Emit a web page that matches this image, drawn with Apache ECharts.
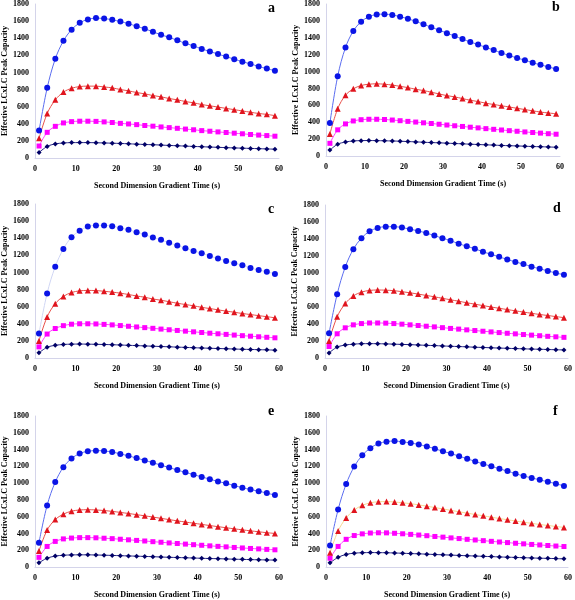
<!DOCTYPE html>
<html><head><meta charset="utf-8">
<script src="https://cdn.jsdelivr.net/npm/echarts@6/dist/echarts.min.js"></script>
<style>html,body{margin:0;padding:0;background:#fff}#c{width:575px;height:600px}</style>
</head><body><div id="c"></div>
<script>
const xValues = [1,3,5,7,9,11,13,15,17,19,21,23,25,27,29,31,33,35,37,39,41,43,45,47,49,51,53,55,57,59];
const panelLabels = ['a','b','c','d','e','f'];
const yTicks = [0,200,400,600,800,1000,1200,1400,1600,1800];
const xTicks = [0,10,20,30,40,50,60];

const aBlue = [320,820,1160,1370,1500,1580,1620,1635,1630,1615,1595,1570,1540,1510,1475,1440,1410,1375,1340,1310,1275,1245,1215,1185,1155,1125,1100,1070,1045,1020];
const aRed = [230,520,680,770,815,835,840,840,830,820,800,785,765,750,730,715,695,680,660,645,625,610,595,580,565,550,535,520,510,495];
const aMagenta = [140,300,370,410,425,430,430,428,422,415,405,398,390,380,372,363,355,347,338,330,320,313,305,298,290,283,275,268,262,255];
const aNavy = [65,135,165,175,180,180,180,178,176,173,170,166,162,158,155,151,147,143,139,135,132,128,125,121,118,115,112,109,106,103];

const bBlue = [390,945,1285,1480,1590,1650,1675,1680,1670,1650,1625,1595,1560,1525,1490,1455,1420,1385,1350,1320,1285,1255,1220,1190,1160,1135,1105,1080,1055,1030];
const bRed = [260,560,720,795,835,850,855,850,840,825,810,790,775,755,735,715,700,680,660,645,625,610,595,580,565,550,535,520,510,500];
const bMagenta = [150,310,380,415,430,435,435,432,426,418,410,402,393,385,376,367,358,350,341,333,324,316,308,300,293,285,278,271,264,258];
const bNavy = [70,140,165,178,182,183,182,180,178,175,171,167,163,159,156,152,148,144,140,136,132,129,125,122,119,116,112,110,107,104];

const cBlue = [285,755,1068,1275,1412,1487,1537,1550,1550,1541,1518,1498,1471,1443,1408,1381,1346,1315,1283,1252,1225,1193,1162,1135,1107,1084,1052,1029,1009,982];
const cRed = [200,480,635,720,765,785,790,788,780,770,758,742,725,710,690,675,658,640,625,610,592,578,563,548,535,520,508,495,483,470];
const cMagenta = [130,280,345,378,395,400,400,398,393,387,379,371,363,355,347,338,330,322,314,306,298,290,283,276,268,261,255,248,242,236];
const cNavy = [60,125,148,158,162,163,162,160,158,155,152,148,145,141,138,134,131,127,124,120,117,114,111,108,105,102,100,97,95,92];

const dBlue = [290,750,1070,1280,1410,1490,1530,1545,1545,1535,1515,1495,1470,1440,1410,1380,1345,1315,1285,1250,1220,1190,1160,1130,1105,1075,1050,1025,1000,980];
const dRed = [200,485,640,730,775,795,800,798,792,780,767,752,736,720,702,685,668,650,633,617,600,585,570,555,540,526,512,500,487,475];
const dMagenta = [135,285,355,390,405,412,412,410,405,398,390,382,374,366,357,348,340,331,323,315,307,299,291,284,276,269,262,255,249,243];
const dNavy = [60,128,152,163,168,169,168,166,163,160,157,153,149,146,142,138,135,131,127,124,120,117,114,111,108,105,103,100,97,95];

const eBlue = [290,734,1012,1190,1294,1352,1379,1387,1383,1371,1348,1325,1298,1271,1244,1213,1186,1155,1128,1101,1074,1047,1020,997,970,946,923,904,881,857];
const eRed = [190,440,565,630,665,680,683,680,673,663,651,638,624,610,595,580,565,550,536,522,508,494,481,468,455,443,431,420,409,400];
const eMagenta = [115,245,305,335,345,350,350,348,343,338,331,324,317,310,302,295,287,280,273,266,259,252,246,240,233,227,221,216,210,205];
const eNavy = [50,105,130,140,144,145,145,143,141,138,135,132,129,126,123,119,116,113,110,107,104,101,99,96,93,91,88,86,84,82];

const fBlue = [255,684,989,1197,1332,1417,1471,1494,1502,1491,1479,1460,1437,1410,1379,1352,1321,1290,1259,1228,1201,1170,1143,1112,1085,1062,1039,1016,993,966];
const fRed = [170,430,585,680,735,765,778,780,775,765,755,740,725,708,692,675,658,642,626,610,594,578,563,548,534,520,507,495,483,472];
const fMagenta = [105,245,330,375,395,405,408,407,402,396,389,381,373,364,356,347,339,330,322,314,306,298,291,283,276,269,263,256,250,244];
const fNavy = [50,115,150,165,170,172,171,170,167,164,160,157,153,149,145,142,138,134,131,127,124,120,117,114,111,108,105,103,100,97];

const panelData = [
  [aBlue,aRed,aMagenta,aNavy],[bBlue,bRed,bMagenta,bNavy],
  [cBlue,cRed,cMagenta,cNavy],[dBlue,dRed,dMagenta,dNavy],
  [eBlue,eRed,eMagenta,eNavy],[fBlue,fRed,fMagenta,fNavy]
];

// layout: [left, right-edge x, top(1800), bottom(0)]
const boxes = [
  [35,279,3,158],[326,560,3,156],
  [34,279,204,358],[325,569,205,358],
  [32,279,416,571],[326,571,416,571]
];
const letterPos = [[273,9],[557,8],[273,210],[558,209],[273,412],[558,412]];

const markerColors = ['#0a14e6','#e0141e','#ff00ff','#000066'];
const lineColorsDefault = ['#5a6cf0','#e8504a','#ff40ff','#202080'];
const symbols = ['circle','triangle','rect','diamond'];
const symSizes = [6,6,5,5];
const FONT = 'Liberation Serif';

const grids=[], xAxes=[], yAxes=[], series=[], graphics=[];
boxes.forEach((b,i)=>{
  grids.push({left:b[0], top:b[2], width:b[1]-b[0], height:b[3]-b[2], containLabel:false});
  xAxes.push({type:'value', gridIndex:i, min:xTicks[0], max:xTicks[xTicks.length-1], interval:10,
    name:'Second Dimension Gradient Time (s)', nameLocation:'middle', nameGap:24,
    nameTextStyle:{fontFamily:FONT,fontWeight:'bold',fontSize:8,color:'#000'},
    axisLine:{show:true,lineStyle:{color:'#d4d4ea',width:1}}, axisTick:{show:false},
    axisLabel:{fontFamily:FONT,fontWeight:'bold',fontSize:8,color:'#000',margin:7,formatter:v=>String(v)},
    splitLine:{show:false}});
  yAxes.push({type:'value', gridIndex:i, min:yTicks[0], max:yTicks[yTicks.length-1], interval:200,
    name:'Effective LCxLC Peak Capacity', nameLocation:'middle', nameGap:25,
    nameTextStyle:{fontFamily:FONT,fontWeight:'bold',fontSize:8,color:'#000'},
    axisLine:{show:true,lineStyle:{color:'#d4d4ea',width:1}}, axisTick:{show:false},
    axisLabel:{fontFamily:FONT,fontWeight:'bold',fontSize:8,color:'#000',margin:6,formatter:v=>String(v)},
    splitLine:{show:false}});
  panelData[i].forEach((arr,k)=>{
    let lc = lineColorsDefault[k];
    if(i===2 && k===0) lc = '#d0d6f4';
    if(i===5 && k===1) lc = '#f6d890';
    series.push({type:'line', xAxisIndex:i, yAxisIndex:i, smooth:0.35,
      data: xValues.map((x,j)=>[x,arr[j]]),
      symbol:symbols[k], symbolSize:symSizes[k], showSymbol:true,
      itemStyle:{color:markerColors[k]}, lineStyle:{color:lc,width:1},
      z: 10-k, animation:false});
  });
  graphics.push({type:'text', left:letterPos[i][0]-5, top:letterPos[i][1]-8,
    style:{text:panelLabels[i], font:'bold 14px "Liberation Serif"', fill:'#000'}});
});

const chart = echarts.init(document.getElementById('c'), null, {renderer:'canvas'});
chart.setOption({animation:false, grid:grids, xAxis:xAxes, yAxis:yAxes, series:series, graphic:graphics});
</script></body></html>
